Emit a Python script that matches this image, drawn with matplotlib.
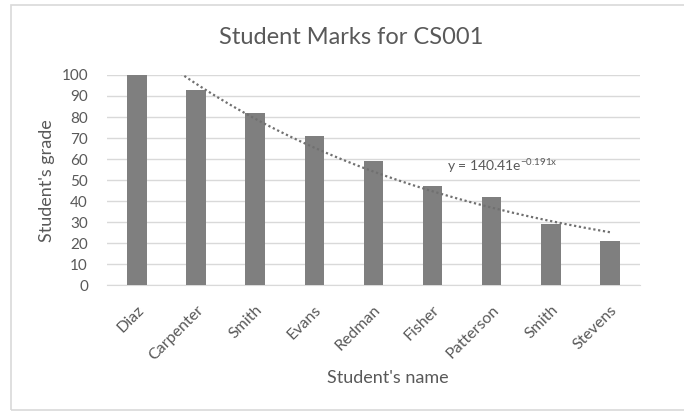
import numpy as np
import matplotlib.pyplot as plt
from matplotlib.patches import Rectangle

# data
names = ['Diaz', 'Carpenter', 'Smith', 'Evans', 'Redman', 'Fisher', 'Patterson', 'Smith', 'Stevens']
grades = [100, 93, 82, 71, 59, 47, 42, 29, 21]
trend_a = 140.41
trend_b = -0.191
y_ticks = [0, 10, 20, 30, 40, 50, 60, 70, 80, 90, 100]

plt.rcParams['font.family'] = ['Lato', 'DejaVu Sans']
text_col = '#595959'

fig = plt.figure(figsize=(6.84, 4.12), dpi=100)
fig.patches.append(Rectangle((11 / 684, 2 / 412), 1.0, 405 / 412, transform=fig.transFigure,
                             fill=False, edgecolor='#d9d9d9', linewidth=1.2))

ax = fig.add_axes([0.157, 0.308, 0.778, 0.51])
x = np.arange(len(names))
ax.bar(x, grades, width=0.33, color='#7f7f7f', zorder=3)

# exponential trendline (Excel, 1-based x)
xt = np.linspace(1, len(names), 200)
yt = trend_a * np.exp(trend_b * xt)
ax.plot(xt - 1, yt, linestyle=(0, (1, 1.2)), color='#707070', linewidth=1.6, zorder=4)
ax.text(5.24, 57, 'y = 140.41e$^{\\mathregular{-0.191x}}$', color=text_col, fontsize=10,
        va='center', ha='left')

ax.set_xlim(-0.5, len(names) - 0.5)
ax.set_ylim(0, 100)
ax.set_yticks(y_ticks)
ax.yaxis.grid(True, color='#d9d9d9', linewidth=1, zorder=0)
for s in ['top', 'right', 'left']:
    ax.spines[s].set_visible(False)
ax.spines['bottom'].set_color('#d9d9d9')
ax.tick_params(axis='both', length=0, colors=text_col)
ax.tick_params(axis='y', pad=14, labelsize=11)
ax.set_xticks(x)
ax.set_xticklabels(names, rotation=45, ha='right', rotation_mode='anchor')
ax.tick_params(axis='x', pad=13, labelsize=11.5)

fig.text(47 / 684, 1 - 181 / 412, "Student's grade", color=text_col, fontsize=13,
         rotation=90, ha='center', va='center')
fig.text(388 / 684, 1 - 378 / 412, "Student's name", color=text_col, fontsize=13,
         ha='center', va='center')
fig.text(351 / 684, 1 - 38 / 412, 'Student Marks for CS001', color=text_col, fontsize=17,
         ha='center', va='center')

plt.savefig('out.png', dpi=100)
